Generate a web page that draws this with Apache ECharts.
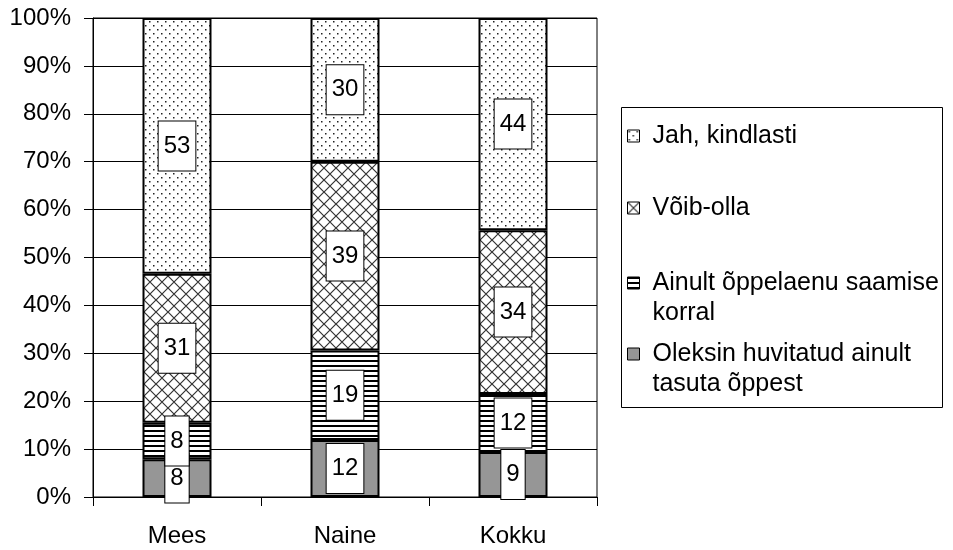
<!DOCTYPE html>
<html><head><meta charset="utf-8">
<script src="https://cdn.jsdelivr.net/npm/echarts@6/dist/echarts.min.js"></script>
<style>html,body{margin:0;padding:0;background:#fff}#c{width:953px;height:550px}</style>
</head><body><div id="c"></div>
<script>
// ---- data ----
const categories = ['Mees', 'Naine', 'Kokku'];
const seriesNames = [
  'Oleksin huvitatud ainult tasuta õppest',
  'Ainult õppelaenu saamise korral',
  'Võib-olla',
  'Jah, kindlasti'
];
const tasutaValues   = [7.9, 11.9, 9.4];
const laenValues     = [7.6, 18.7, 12.1];
const voibOllaValues = [31.1, 39.4, 34.2];
const jahValues      = [53.4, 30.0, 44.3];
const yTickLabels = ['0%', '10%', '20%', '30%', '40%', '50%', '60%', '70%', '80%', '90%', '100%'];
const legendLines = {
  'Jah, kindlasti': ['Jah, kindlasti'],
  'Võib-olla': ['Võib-olla'],
  'Ainult õppelaenu saamise korral': ['Ainult õppelaenu saamise', 'korral'],
  'Oleksin huvitatud ainult tasuta õppest': ['Oleksin huvitatud ainult', 'tasuta õppest']
};

// ---- patterns ----
function tile(w, h, draw) {
  const c = document.createElement('canvas');
  c.width = w; c.height = h;
  const ctx = c.getContext('2d');
  ctx.fillStyle = '#fff';
  ctx.fillRect(0, 0, w, h);
  draw(ctx);
  return c;
}
const dotsTile = tile(8, 8, ctx => {
  ctx.fillStyle = '#222';
  ctx.fillRect(1, 1, 1.5, 1.5);
  ctx.fillRect(5, 5, 1.5, 1.5);
});
const crossTile = tile(12, 12, ctx => {
  ctx.strokeStyle = '#333';
  ctx.lineWidth = 1.2;
  ctx.beginPath();
  ctx.moveTo(-2, -2); ctx.lineTo(14, 14);
  ctx.moveTo(14, -2); ctx.lineTo(-2, 14);
  ctx.stroke();
});
const stripeTile = tile(4, 5, ctx => {
  ctx.fillStyle = '#000';
  ctx.fillRect(0, 0, 4, 2);
});
const fills = [
  '#969696',
  { image: stripeTile, repeat: 'repeat' },
  { image: crossTile, repeat: 'repeat' },
  { image: dotsTile, repeat: 'repeat' }
];
const valueArrays = [tasutaValues, laenValues, voibOllaValues, jahValues];

const FONT = "'Liberation Sans', Arial, sans-serif";

const series = seriesNames.map((name, i) => ({
  name: name,
  type: 'bar',
  stack: 'total',
  barWidth: 69,
  data: valueArrays[i],
  itemStyle: { color: fills[i], borderColor: '#000', borderWidth: 2 },
  label: {
    show: true,
    position: 'inside',
    formatter: p => String(Math.round(p.value)),
    color: '#000',
    fontSize: 24,
    fontFamily: FONT,
    backgroundColor: '#fff',
    borderColor: '#000',
    borderWidth: 1,
    padding: [13, 5, 12, 5]
  }
}));

const legendCenters = {
  'Jah, kindlasti': 136,
  'Võib-olla': 208,
  'Ainult õppelaenu saamise korral': 283,
  'Oleksin huvitatud ainult tasuta õppest': 354
};
const LINE_H = 30;
const legends = seriesNames.slice().reverse().map(name => {
  const lines = legendLines[name];
  const multi = lines.length > 1;
  const top = legendCenters[name] - (multi ? 1.5 * LINE_H : 0.5 * LINE_H);
  return {
    data: [name],
    orient: 'vertical',
    left: 627,
    top: top,
    padding: 0,
    itemWidth: 12,
    itemHeight: 12,
    icon: 'rect',
    selectedMode: false,
    itemStyle: { borderColor: '#000', borderWidth: 1 },
    textStyle: { fontSize: 25, color: '#000', fontFamily: FONT, lineHeight: LINE_H, padding: [0, 0, 0, 8] },
    formatter: n => (multi ? '\n' : '') + legendLines[n].join('\n')
  };
});

const chart = echarts.init(document.getElementById('c'), null, { renderer: 'canvas' });
chart.setOption({
  animation: false,
  backgroundColor: '#fff',
  textStyle: { fontFamily: FONT },
  grid: { left: 93, right: 356, top: 18, bottom: 53, show: true, borderColor: '#000', borderWidth: 1, backgroundColor: 'transparent' },
  xAxis: {
    type: 'category',
    data: categories,
    axisLine: { show: true, lineStyle: { color: '#000', width: 1 } },
    axisTick: { show: true, length: 9, interval: 0, alignWithLabel: false, lineStyle: { color: '#000' } },
    axisLabel: { fontSize: 24, color: '#000', margin: 27, fontFamily: FONT }
  },
  yAxis: {
    type: 'value',
    min: 0, max: 100, interval: 10,
    axisLine: { show: true, lineStyle: { color: '#000', width: 1 } },
    axisTick: { show: true, length: 9, lineStyle: { color: '#000' } },
    axisLabel: { fontSize: 24, color: '#000', margin: 22, fontFamily: FONT, formatter: v => yTickLabels[Math.round(v / 10)] },
    splitLine: { show: true, lineStyle: { color: '#000', width: 1 } }
  },
  legend: legends,
  graphic: [{
    type: 'rect',
    shape: { x: 621.5, y: 107.5, width: 321, height: 300 },
    style: { fill: 'none', stroke: '#000', lineWidth: 1 },
    z: -1
  }],
  series: series
});
</script>
</body></html>
